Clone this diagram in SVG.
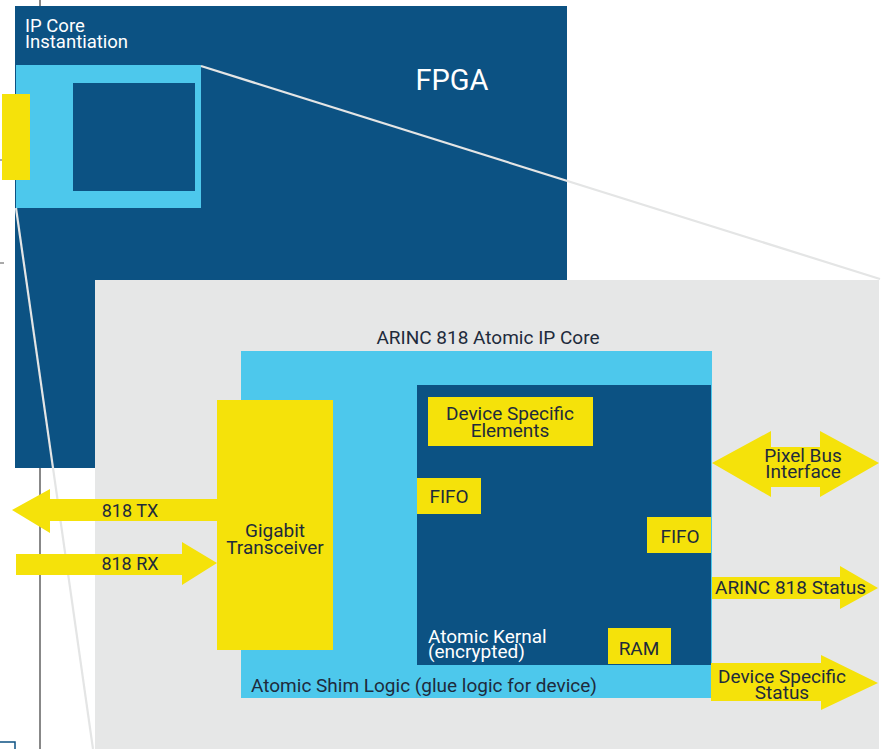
<svg xmlns="http://www.w3.org/2000/svg" width="883" height="749" viewBox="0 0 883 749">
<style>
.dk{fill:#0C5283}
.lb{fill:#4DC8EC}
.ye{fill:#F5E20A}
.t{font-family:Roboto,"Liberation Sans",sans-serif;font-size:19px;fill:#1E2B3C}
.w{font-family:Roboto,"Liberation Sans",sans-serif;font-size:19px;fill:#FFFFFF}
.c{text-anchor:middle}
</style>
<rect width="883" height="749" fill="#FFFFFF"/>
<g id="guides">
<line x1="40" y1="0" x2="40" y2="7" stroke="#888888" stroke-width="2"/>
<line x1="40" y1="468" x2="40" y2="749" stroke="#888888" stroke-width="2"/>
<line x1="0" y1="160" x2="4" y2="160" stroke="#555555" stroke-width="1"/>
<line x1="0" y1="263" x2="4" y2="263" stroke="#555555" stroke-width="1"/>
<rect x="-2" y="742" width="17" height="10" fill="none" stroke="#0C5283" stroke-width="1.5"/>
</g>
<g id="fpga">
<rect class="dk" x="15" y="6" width="552" height="462"/>
<text class="w" x="25" y="32" style="font-size:18.5px">IP Core</text>
<text class="w" x="25" y="48" style="font-size:18.5px">Instantiation</text>
<text class="w" x="452" y="90" text-anchor="middle" style="font-size:29px">FPGA</text>
</g>
<g id="ipcore-instance">
<rect class="lb" x="16" y="65" width="185" height="143"/>
<rect class="dk" x="73" y="83" width="122" height="108"/>
<rect class="ye" x="2" y="94" width="28" height="86"/>
</g>
<g id="zoom-lines">
<line x1="201" y1="66" x2="880" y2="279" stroke="#E4E5E5" stroke-width="2.2"/>
<line x1="16" y1="208" x2="93" y2="749" stroke="#E4E5E5" stroke-width="2.2"/>
</g>
<g id="panel">
<rect x="95" y="280" width="784" height="469" fill="#E6E7E7"/>
<text class="t c" x="488" y="344">ARINC 818 Atomic IP Core</text>
</g>
<g id="shim">
<rect class="lb" x="241" y="351" width="471" height="347"/>
<text class="t" x="251" y="692">Atomic Shim Logic (glue logic for device)</text>
</g>
<g id="kernel">
<rect class="dk" x="417" y="385" width="294" height="280"/>
<text class="w" x="428" y="643">Atomic Kernal</text>
<text class="w" x="428" y="658">(encrypted)</text>
</g>
<g id="device-specific-elements">
<rect class="ye" x="428" y="397" width="165" height="49"/>
<text class="t c" x="510" y="420">Device Specific</text>
<text class="t c" x="510" y="437">Elements</text>
</g>
<g id="fifo-left">
<rect class="ye" x="417" y="478" width="64" height="36"/>
<text class="t c" x="449" y="503">FIFO</text>
</g>
<g id="fifo-right">
<rect class="ye" x="647" y="517" width="64" height="36"/>
<text class="t c" x="680" y="543">FIFO</text>
</g>
<g id="ram">
<rect class="ye" x="608" y="628" width="63" height="36"/>
<text class="t c" x="639" y="655">RAM</text>
</g>
<g id="gigabit-transceiver">
<rect class="ye" x="217" y="400" width="116" height="250"/>
<text class="t c" x="275" y="537">Gigabit</text>
<text class="t c" x="275" y="554">Transceiver</text>
</g>
<g id="connectors">
<polygon class="ye" points="217,499 50,499 50,489 12,510 50,533 50,521 217,521"/>
<polygon class="ye" points="16,554 182,554 182,542 217,563 182,585 182,575 16,575"/>
<polygon class="ye" points="712,463 771,431 771,447 820,447 820,431 879,463 820,497 820,487 771,487 771,497"/>
<polygon class="ye" points="712,577 840,577 840,566 878,588 840,609 840,599 712,599"/>
<polygon class="ye" points="711,663 821,663 821,655 878,683 821,710 821,701 711,701"/>
</g>
<g id="labels">
<text class="t c" x="130" y="517" style="font-size:18px">818 TX</text>
<text class="t c" x="130" y="570" style="font-size:18px">818 RX</text>
<text class="t c" x="803" y="462">Pixel Bus</text>
<text class="t c" x="803" y="478">Interface</text>
<text class="t" x="715" y="594">ARINC 818 Status</text>
<text class="t c" x="782" y="683">Device Specific</text>
<text class="t c" x="782" y="699">Status</text>
</g>
</svg>
